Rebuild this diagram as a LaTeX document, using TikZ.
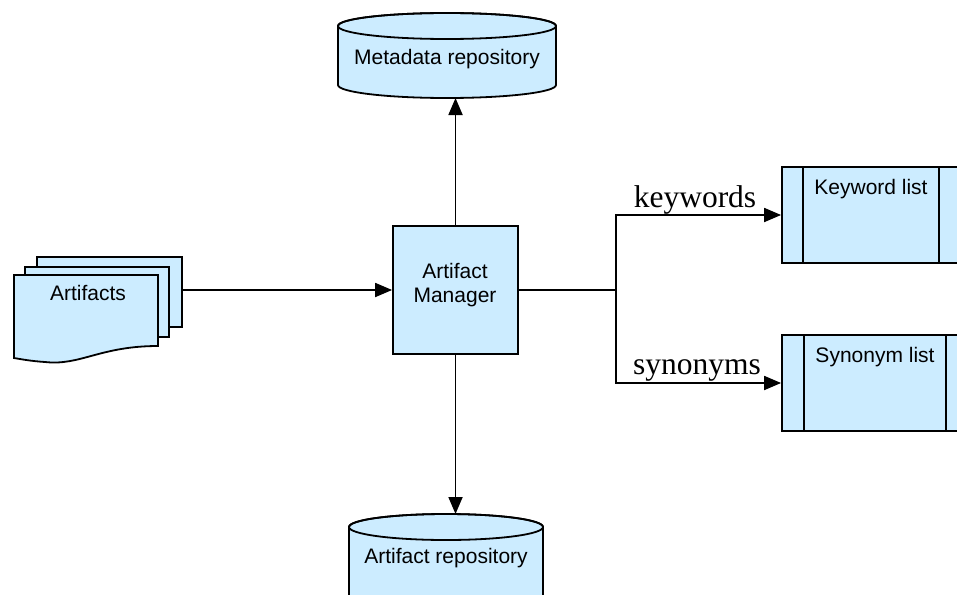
\documentclass[tikz,border=0pt]{standalone}
\usepackage{fontspec}
\setmainfont{Liberation Sans}
\newfontfamily\seriffont{Liberation Serif}
\usetikzlibrary{arrows.meta}
\definecolor{boxfill}{RGB}{204,236,255}
\tikzset{
  shapeline/.style={draw=black, line width=1.8pt, fill=boxfill, line join=miter},
  conn/.style={draw=black, line width=1.8pt},
  arr/.style={conn, -{Triangle[length=17pt,width=14pt]}},
  lbl/.style={font=\fontsize{21}{24}\selectfont, inner sep=0pt, anchor=base},
  edgelbl/.style={font=\seriffont\fontsize{31.5}{34}\selectfont, inner sep=0pt, anchor=base},
}
\begin{document}
\begin{tikzpicture}[x=1pt,y=-1pt]
\useasboundingbox (0,0) rectangle (957,594);
\clip (0,0) rectangle (957,594);

% Metadata repository (cylinder)
\path[shapeline] (338,26) -- (338,85) arc[start angle=180,end angle=360,x radius=109pt,y radius=13pt]
  -- (556,26) arc[start angle=0,end angle=180,x radius=109pt,y radius=13pt] -- cycle;
\draw[line width=1.8pt] (447,26) ellipse[x radius=109pt,y radius=13pt];
\node[lbl] (metatext) at (447,64) {Metadata repository};
\coordinate (metabot) at (455.5,98);

% Artifact repository (cylinder, cut by page edge)
\path[shapeline] (349,527) -- (349,620) -- (543,620) -- (543,527)
  arc[start angle=0,end angle=180,x radius=97pt,y radius=13pt] -- cycle;
\draw[line width=1.8pt] (446,527) ellipse[x radius=97pt,y radius=13pt];
\node[lbl] (arttext) at (446,563) {Artifact repository};
\coordinate (arttop) at (455.5,514);

% Artifacts (multiple documents)
\path[shapeline] (37,257) rectangle (182,327);
\path[shapeline] (25,267) rectangle (169,337);
\path[shapeline] (14,275) -- (158,275) -- (158,346)
  .. controls (100,346) and (80,366) .. (45,362)
  .. controls (30,361) and (20,359) .. (14,358) -- cycle;
\node[lbl] (artifacts) at (88,300) {Artifacts};
\coordinate (docright) at (182,290);

% Artifact Manager
\node[shapeline, minimum width=125pt, minimum height=128pt, inner sep=0pt] (mgr) at (455.5,290) {};
\node[lbl] (mgr1) at (455,278) {Artifact};
\node[lbl] (mgr2) at (455,302) {Manager};

% Keyword list
\node[shapeline, minimum width=182pt, minimum height=96pt, inner sep=0pt] (kw) at (873,215) {};
\draw[line width=1.8pt] (803,167) -- (803,263) (939,167) -- (939,263);
\node[lbl] (kwtext) at (871,194) {Keyword list};

% Synonym list
\node[shapeline, minimum width=182pt, minimum height=96pt, inner sep=0pt] (syn) at (873,383) {};
\draw[line width=1.8pt] (804,335) -- (804,431) (946,335) -- (946,431);
\node[lbl] (syntext) at (875,362) {Synonym list};

% Connectors
\draw[arr] (docright) -- (mgr.west);
\draw[arr] (mgr.north) -- (metabot);
\draw[arr] (mgr.south) -- (arttop);
\coordinate (split) at (616,290);
\draw[conn] (mgr.east) -- (split);
\draw[arr] (split) |- (kw.west);
\draw[arr] (split) |- (syn.west);
\node[edgelbl] (kwlbl) at (695,207) {keywords};
\node[edgelbl] (synlbl) at (697,374) {synonyms};
\end{tikzpicture}
\end{document}
